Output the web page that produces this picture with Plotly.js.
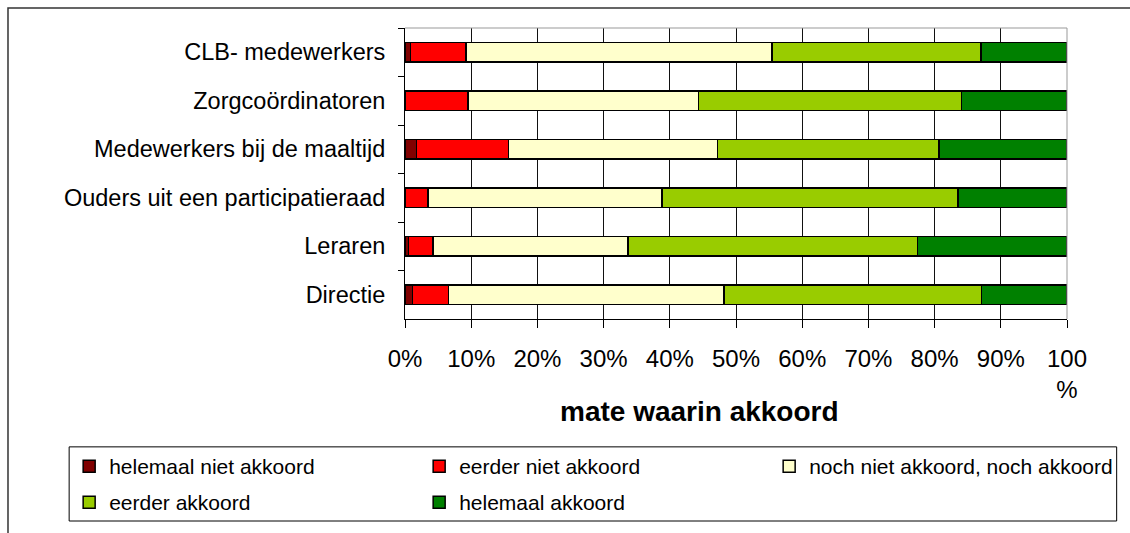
<!DOCTYPE html>
<html>
<head>
<meta charset="utf-8">
<script src="https://cdn.plot.ly/plotly-3.0.1.min.js"></script>
<style>
  html, body { margin: 0; padding: 0; background: #fff; }
  #chart { width: 1130px; height: 533px; }
</style>
</head>
<body>
<div id="chart"></div>
<script>
// Categories, top to bottom
const groups = [
  "CLB- medewerkers",
  "Zorgcoördinatoren",
  "Medewerkers bij de maaltijd",
  "Ouders uit een participatieraad",
  "Leraren",
  "Directie"
];

// Series (percent of respondents per group)
const seriesNames = [
  "helemaal niet akkoord",
  "eerder niet akkoord",
  "noch niet akkoord, noch akkoord",
  "eerder akkoord",
  "helemaal akkoord"
];
const helemaalNietAkkoord = [0.8, 0.0, 1.7, 0.0, 0.5, 1.1];
const eerderNietAkkoord   = [8.4, 9.5, 13.9, 3.5, 3.7, 5.5];
const nochNoch            = [46.2, 34.8, 31.6, 35.3, 29.5, 41.6];
const eerderAkkoord       = [31.6, 39.8, 33.5, 44.7, 43.7, 38.9];
const helemaalAkkoord     = [13.0, 15.9, 19.3, 16.5, 22.6, 12.9];

const xTickValues = [0, 10, 20, 30, 40, 50, 60, 70, 80, 90, 100];
const xTickLabels = ["0%", "10%", "20%", "30%", "40%", "50%", "60%", "70%", "80%", "90%", "100<br>%"];
const xTitle = "mate waarin akkoord";

const seriesValues = [helemaalNietAkkoord, eerderNietAkkoord, nochNoch, eerderAkkoord, helemaalAkkoord];
const seriesColors = ["#800000", "#FF0000", "#FFFFCC", "#99CC00", "#008000"];
const seriesLegend = ["legend", "legend", "legend", "legend2", "legend2"];

const FONT = "'Liberation Sans', Arial, Helvetica, sans-serif";

const traces = seriesNames.map((name, i) => ({
  type: "bar",
  orientation: "h",
  name: name,
  y: groups,
  x: seriesValues[i],
  legend: seriesLegend[i],
  marker: { color: seriesColors[i], line: { color: "#000000", width: 1.5 } },
  hoverinfo: "name+x"
}));

// Layout geometry (pixels)
const W = 1130, H = 533;
const plotL = 404.8, plotR = 1067.3, plotT = 28, plotB = 320;
const pw = plotR - plotL, ph = plotB - plotT;
const px2x = p => (p - plotL) / pw;
const py2y = p => (plotB - p) / ph;

const legendCommon = {
  orientation: "h",
  xanchor: "left",
  yanchor: "top",
  borderwidth: 0,
  bgcolor: "rgba(0,0,0,0)",
  font: { size: 21, family: FONT, color: "#000" },
  entrywidth: 305,
  entrywidthmode: "pixels",
  traceorder: "normal"
};

const layout = {
  width: W,
  height: H,
  margin: { l: plotL, r: W - plotR, t: plotT, b: H - plotB, pad: 0 },
  paper_bgcolor: "#ffffff",
  plot_bgcolor: "#ffffff",
  barmode: "stack",
  bargap: 0.6,
  font: { family: FONT, color: "#000000", size: 20 },
  showlegend: true,
  xaxis: {
    range: [0, 100],
    tickmode: "array",
    tickvals: xTickValues,
    ticktext: xTickLabels,
    showgrid: true,
    gridcolor: "#111111",
    gridwidth: 1,
    zeroline: false,
    showline: true,
    linecolor: "#000000",
    linewidth: 1,
    ticks: "outside",
    ticklen: 8,
    tickcolor: "#000000",
    tickfont: { size: 24, family: FONT, color: "#000" },
    ticklabelstandoff: 10,
    fixedrange: true
  },
  yaxis: {
    type: "category",
    autorange: "reversed",
    showgrid: false,
    zeroline: false,
    showline: true,
    linecolor: "#000000",
    linewidth: 1,
    ticks: "outside",
    tickson: "boundaries",
    ticklen: 6,
    tickcolor: "#000000",
    tickfont: { size: 23.5, family: FONT, color: "#000" },
    ticklabelstandoff: 14,
    fixedrange: true
  },
  legend: Object.assign({}, legendCommon, { x: px2x(68.7), y: py2y(446) }),
  legend2: Object.assign({}, legendCommon, { x: px2x(68.7), y: py2y(482) }),
  annotations: [
    { text: "<b>" + xTitle + "</b>", xref: "paper", yref: "paper",
      x: px2x(700), y: py2y(413), xanchor: "center", yanchor: "middle",
      showarrow: false, font: { size: 28, family: FONT, color: "#000" } }
  ],
  shapes: [
    // gray top/right border of the plot area
    { type: "line", xref: "paper", yref: "paper", x0: 0, x1: 1, y0: 1, y1: 1,
      line: { color: "#999999", width: 1 } },
    { type: "line", xref: "paper", yref: "paper", x0: 1, x1: 1, y0: 0, y1: 1,
      line: { color: "#999999", width: 1 } },
    // legend box
    { type: "rect", xref: "paper", yref: "paper",
      x0: px2x(68.7), x1: px2x(1117), y0: py2y(448.3), y1: py2y(522.7),
      line: { color: "#000000", width: 1 }, fillcolor: "rgba(0,0,0,0)", layer: "below" },
    // outer chart frame
    { type: "rect", xref: "paper", yref: "paper",
      x0: px2x(7.5), x1: px2x(1140), y0: py2y(8), y1: py2y(545),
      line: { color: "#333333", width: 1.5 }, fillcolor: "rgba(0,0,0,0)", layer: "above" }
  ]
};

Plotly.newPlot("chart", traces, layout, { displayModeBar: false, staticPlot: true });
</script>
</body>
</html>
